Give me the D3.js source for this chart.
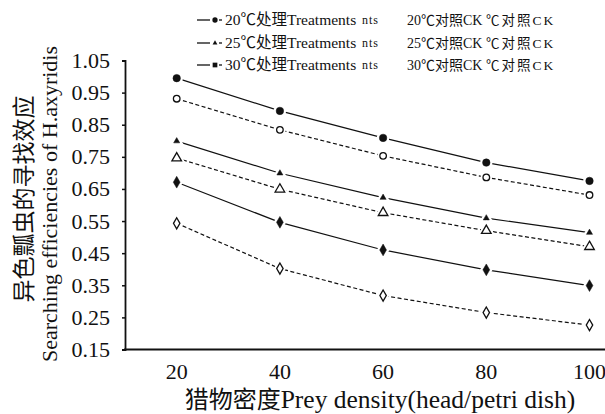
<!DOCTYPE html>
<html>
<head>
<meta charset="utf-8">
<script src="https://cdn.jsdelivr.net/npm/d3@7"></script>
<style>
  body { margin: 0; background: #fff; }
  text { font-family: "Liberation Serif", serif; fill: #111; }
  .cjk { font-family: "Noto Sans CJK SC", sans-serif; }
  .lat { font-family: "Liberation Serif", serif; }
</style>
</head>
<body>
<div id="chart"></div>
<script>
const WIDTH = 605;
const HEIGHT = 414;

// data
const densities = [20, 40, 60, 80, 100];
const treat20 = [0.995, 0.893, 0.809, 0.732, 0.675];
const ck20 = [0.931, 0.834, 0.753, 0.686, 0.631];
const treat25 = [0.799, 0.699, 0.623, 0.559, 0.514];
const ck25 = [0.746, 0.649, 0.576, 0.520, 0.470];
const treat30 = [0.671, 0.546, 0.460, 0.398, 0.349];
const ck30 = [0.543, 0.402, 0.318, 0.265, 0.226];
const yTicks = [0.15, 0.25, 0.35, 0.45, 0.55, 0.65, 0.75, 0.85, 0.95, 1.05];

const legendTemps = ["20", "25", "30"];
const treatWord = ["℃处理", "Treatments"];
const ckWord = ["℃对照", "CK"];

const series = [
    { values: treat20, marker: "circle", filled: true, dashed: false },
    { values: ck20, marker: "circle", filled: false, dashed: true },
    { values: treat25, marker: "triangle", filled: true, dashed: false },
    { values: ck25, marker: "triangle", filled: false, dashed: true },
    { values: treat30, marker: "diamond", filled: true, dashed: false },
    { values: ck30, marker: "diamond", filled: false, dashed: true }
];

const svg = d3.select("#chart").append("svg")
    .attr("width", WIDTH)
    .attr("height", HEIGHT);

const x = d3.scaleLinear().domain([20, 100]).range([176.7, 589.5]);
const y = d3.scaleLinear().domain([0.15, 1.05]).range([349.5, 60.5]);
const AXIS_X = 125;

// append mixed CJK / latin text as separate tspans so each part keeps its own font
function mixed(sel, parts, latSize) {
    parts.forEach(p => {
        const isCjk = /[\u2100-\u9fff]/.test(p);
        const ts = sel.append("tspan")
            .attr("class", isCjk ? "cjk" : "lat")
            .text(p);
        if (!isCjk && latSize) ts.style("font-size", latSize);
    });
    return sel;
}

// y axis
const yAxis = svg.append("g")
    .attr("transform", `translate(${AXIS_X},0)`)
    .call(d3.axisLeft(y).tickValues(yTicks).tickSize(3).tickPadding(12).tickFormat(d3.format(".2f")));
yAxis.select(".domain").attr("stroke", "#111").attr("stroke-width", 1.8);
yAxis.selectAll(".tick line").attr("stroke", "#111").attr("stroke-width", 1.5);
yAxis.selectAll(".tick text")
    .style("font-family", "Liberation Serif")
    .style("font-size", "22px")
    .attr("fill", "#111");

// x axis: plain line, labels only
svg.append("line")
    .attr("x1", AXIS_X - 1).attr("x2", WIDTH)
    .attr("y1", y(0.15)).attr("y2", y(0.15))
    .attr("stroke", "#111").attr("stroke-width", 1.8);

svg.append("g").selectAll("text")
    .data(densities)
    .enter().append("text")
    .attr("x", d => x(d))
    .attr("y", 379)
    .attr("text-anchor", "middle")
    .style("font-size", "22px")
    .text(d => d);

// axis titles
mixed(svg.append("text")
    .attr("x", 380)
    .attr("y", 408)
    .attr("text-anchor", "middle")
    .style("font-size", "24px"), ["猎物密度", "Prey density(head/petri dish)"], "25.5px");

svg.append("text")
    .attr("class", "cjk")
    .attr("transform", "translate(32,199) rotate(-90)")
    .attr("text-anchor", "middle")
    .style("font-size", "23px")
    .attr("fill", "#333")
    .text("异色瓢虫的寻找效应");

svg.append("text")
    .attr("transform", "translate(57,204) rotate(-90)")
    .attr("text-anchor", "middle")
    .style("font-size", "22px")
    .text("Searching efficiencies of H.axyridis");

// lines
const line = d3.line()
    .x((d, i) => x(densities[i]))
    .y(d => y(d));

svg.append("g").selectAll("path")
    .data(series)
    .enter().append("path")
    .attr("d", d => line(d.values))
    .attr("fill", "none")
    .attr("stroke", "#111")
    .attr("stroke-width", 1.2)
    .attr("stroke-dasharray", d => d.dashed ? "4,2.5" : null);

// markers
function markerPath(type, filled) {
    if (type === "circle") return d3.symbol(d3.symbolCircle, filled ? 44 : 34)();
    if (type === "triangle") return d3.symbol(d3.symbolTriangle, filled ? 16 : 40)();
    return d3.symbol(d3.symbolDiamond, filled ? 40 : 36)();
}

series.forEach(s => {
    const g = svg.append("g");
    const pts = g.selectAll("g")
        .data(s.values)
        .enter().append("g")
        .attr("transform", (d, i) => `translate(${x(densities[i])},${y(d)})`);
    // white gap round the marker
    pts.append("path")
        .attr("d", markerPath(s.marker, s.filled))
        .attr("fill", "#fff")
        .attr("stroke", "#fff")
        .attr("stroke-width", 5);
    pts.append("path")
        .attr("d", markerPath(s.marker, s.filled))
        .attr("fill", s.filled ? "#111" : "#fff")
        .attr("stroke", "#111")
        .attr("stroke-width", s.filled ? 0.5 : 1.3);
});

// legend
const legendRows = [20, 43, 65];
const legendMarkers = [
    d3.symbol(d3.symbolCircle, 22)(),
    d3.symbol(d3.symbolTriangle, 10)(),
    d3.symbol(d3.symbolSquare, 22)()
];

const leg = svg.append("g");
legendTemps.forEach((t, i) => {
    const row = leg.append("g").attr("transform", `translate(0,${legendRows[i]})`);
    row.append("line").attr("x1", 197).attr("x2", 210).attr("y1", 0).attr("y2", 0)
        .attr("stroke", "#111").attr("stroke-width", 1.3);
    row.append("path").attr("d", legendMarkers[i])
        .attr("transform", "translate(215,0)").attr("fill", "#111");
    row.append("line").attr("x1", 219).attr("x2", 222).attr("y1", 0).attr("y2", 0)
        .attr("stroke", "#111").attr("stroke-width", 1.3);
    mixed(row.append("text").attr("x", 225).attr("y", 5)
        .style("font-size", "15.5px"), [t, treatWord[0], treatWord[1]]);
    row.append("text").attr("x", 362).attr("y", 4)
        .style("font-size", "12px").style("letter-spacing", "1px").attr("fill", "#555")
        .text("nts");
    mixed(row.append("text").attr("x", 407).attr("y", 5)
        .style("font-size", "14px"), [t, ckWord[0], ckWord[1]]);
    mixed(row.append("text").attr("x", 486).attr("y", 5)
        .style("font-size", "13.5px").style("letter-spacing", "2px").attr("fill", "#444"),
        [ckWord[0], ckWord[1]]);
});
</script>
</body>
</html>
